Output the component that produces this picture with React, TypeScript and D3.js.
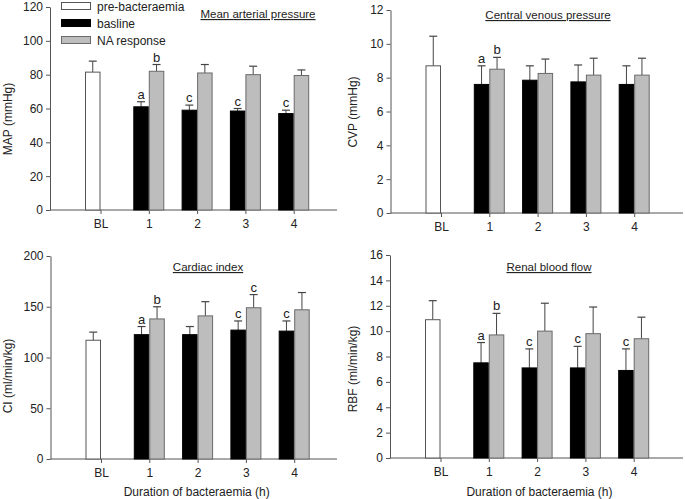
import React, { useEffect, useRef } from 'react';
import * as d3 from 'd3';

const categories = ["BL", "1", "2", "3", "4"];
const hours = ["1", "2", "3", "4"];

// Mean arterial pressure
const mapPre = 81.5, mapPreErr = 6.5;
const mapBase = [61, 59, 58.5, 57];
const mapBaseErr = [3, 3, 1.5, 2];
const mapNA = [82, 81, 80, 79.5];
const mapNAErr = [4, 5, 5, 3.3];
const mapBaseLetters = ["a", "c", "c", "c"];
const mapNALetters = ["b", "", "", ""];
const mapTicks = [0, 20, 40, 60, 80, 100, 120];

// Central venous pressure
const cvpPre = 8.7, cvpPreErr = 1.75;
const cvpBase = [7.6, 7.85, 7.75, 7.6];
const cvpBaseErr = [1.1, 0.85, 1.0, 1.1];
const cvpNA = [8.5, 8.25, 8.15, 8.15];
const cvpNAErr = [0.7, 0.85, 1.0, 1.0];
const cvpBaseLetters = ["a", "", "", ""];
const cvpNALetters = ["b", "", "", ""];
const cvpTicks = [0, 2, 4, 6, 8, 10, 12];

// Cardiac index
const ciPre = 117, ciPreErr = 8;
const ciBase = [122.5, 122.5, 127, 126];
const ciBaseErr = [8, 8, 9, 10];
const ciNA = [138, 141, 149, 147];
const ciNAErr = [12, 14, 13, 17];
const ciBaseLetters = ["a", "", "c", "c"];
const ciNALetters = ["b", "", "c", ""];
const ciTicks = [0, 50, 100, 150, 200];

// Renal blood flow
const rbfPre = 10.9, rbfPreErr = 1.5;
const rbfBase = [7.5, 7.1, 7.1, 6.9];
const rbfBaseErr = [1.6, 1.5, 1.7, 1.7];
const rbfNA = [9.7, 10.0, 9.8, 9.4];
const rbfNAErr = [1.7, 2.2, 2.1, 1.7];
const rbfBaseLetters = ["a", "c", "c", "c"];
const rbfNALetters = ["b", "", "", ""];
const rbfTicks = [0, 2, 4, 6, 8, 10, 12, 14, 16];

const legendLabels = ["pre-bacteraemia", "basline", "NA response"];

const FONT = "Arial, 'Liberation Sans', sans-serif";
const AXIS = "#555";
const TEXT = "#222";
const GRAY = "#bdbdbd";

const panels = [
  { title: "Mean arterial pressure", ylabel: "MAP (mmHg)", pre: mapPre, preErr: mapPreErr, base: mapBase, baseErr: mapBaseErr, na: mapNA, naErr: mapNAErr, baseLetters: mapBaseLetters, naLetters: mapNALetters, ticks: mapTicks,
    x0: 50, right: 337, top: 7, bottom: 210, titleX: 258, titleY: 18, ylabX: 8, ylabY: 119, legend: true, xTitle: false },
  { title: "Central venous pressure", ylabel: "CVP (mmHg)", pre: cvpPre, preErr: cvpPreErr, base: cvpBase, baseErr: cvpBaseErr, na: cvpNA, naErr: cvpNAErr, baseLetters: cvpBaseLetters, naLetters: cvpNALetters, ticks: cvpTicks,
    x0: 390.5, right: 683, top: 10, bottom: 213, titleX: 548, titleY: 19, ylabX: 353, ylabY: 112, legend: false, xTitle: false },
  { title: "Cardiac index", ylabel: "CI (ml/min/kg)", pre: ciPre, preErr: ciPreErr, base: ciBase, baseErr: ciBaseErr, na: ciNA, naErr: ciNAErr, baseLetters: ciBaseLetters, naLetters: ciNALetters, ticks: ciTicks,
    x0: 50.5, right: 337, top: 256, bottom: 459, titleX: 208, titleY: 271, ylabX: 8, ylabY: 376, legend: false, xTitle: true },
  { title: "Renal blood flow", ylabel: "RBF (ml/min/kg)", pre: rbfPre, preErr: rbfPreErr, base: rbfBase, baseErr: rbfBaseErr, na: rbfNA, naErr: rbfNAErr, baseLetters: rbfBaseLetters, naLetters: rbfNALetters, ticks: rbfTicks,
    x0: 390, right: 683, top: 255, bottom: 458, titleX: 549, titleY: 271, ylabX: 353, ylabY: 369, legend: false, xTitle: true },
];

function App() {
  const svgRef = useRef<SVGSVGElement>(null);

  useEffect(() => {
    const svg = d3.select(svgRef.current);
    svg.selectAll('*').remove();
    const barW = 15.5;
    const capW = 8;

    panels.forEach(p => {
      const g = svg.append('g');
      const y = d3.scaleLinear()
        .domain([0, p.ticks[p.ticks.length - 1]])
        .range([p.bottom, p.top]);
      const x = d3.scalePoint()
        .domain(categories)
        .range([p.x0 + 50.5, p.x0 + 243.7]);

      // axes
      const yAxis = g.append('g')
        .attr('transform', `translate(${p.x0},0)`)
        .call(d3.axisLeft(y).tickValues(p.ticks).tickSize(4).tickPadding(3).tickSizeOuter(0));
      const xAxis = g.append('g')
        .attr('transform', `translate(0,${p.bottom})`)
        .call(d3.axisBottom(x).tickSize(4).tickPadding(5).tickSizeOuter(0));
      xAxis.select('.domain').attr('d', `M${p.x0},0H${p.right}`);
      [yAxis, xAxis].forEach(a => {
        a.select('.domain').attr('stroke', AXIS);
        a.selectAll('.tick line').attr('stroke', AXIS);
        a.selectAll('.tick text').attr('fill', TEXT).style('font-family', FONT).style('font-size', '12px');
      });

      // bars: white baseline (pre) in left slot of BL group
      type Bar = { cx: number; v: number; e: number; fill: string; stroke: string; letter: string };
      const bars: Bar[] = [
        { cx: x("BL")! - barW / 2, v: p.pre, e: p.preErr, fill: "#fff", stroke: "#555", letter: "" },
      ];
      hours.forEach((h, i) => {
        bars.push({ cx: x(h)! - barW / 2, v: p.base[i], e: p.baseErr[i], fill: "#000", stroke: "#000", letter: p.baseLetters[i] });
        bars.push({ cx: x(h)! + barW / 2, v: p.na[i], e: p.naErr[i], fill: GRAY, stroke: "#6a6a6a", letter: p.naLetters[i] });
      });

      const eb = g.append('g').selectAll('g').data(bars).enter().append('g');
      eb.append('line')
        .attr('x1', d => d.cx).attr('x2', d => d.cx)
        .attr('y1', d => y(d.v)).attr('y2', d => y(d.v + d.e))
        .attr('stroke', '#444').attr('stroke-width', 1);
      eb.append('line')
        .attr('x1', d => d.cx - capW / 2).attr('x2', d => d.cx + capW / 2)
        .attr('y1', d => y(d.v + d.e)).attr('y2', d => y(d.v + d.e))
        .attr('stroke', '#444').attr('stroke-width', 1.2);

      g.append('g').selectAll('rect').data(bars).enter().append('rect')
        .attr('x', d => d.cx - barW / 2 + 0.5)
        .attr('width', barW - 1)
        .attr('y', d => y(d.v))
        .attr('height', d => p.bottom - y(d.v))
        .attr('fill', d => d.fill)
        .attr('stroke', d => d.stroke)
        .attr('stroke-width', 1);

      g.append('g').selectAll('text').data(bars.filter(d => d.letter)).enter().append('text')
        .attr('x', d => d.cx)
        .attr('y', d => y(d.v + d.e) - 3)
        .attr('text-anchor', 'middle')
        .attr('fill', TEXT)
        .style('font-family', FONT).style('font-size', '13px')
        .text(d => d.letter);

      // titles
      g.append('text')
        .attr('x', p.titleX).attr('y', p.titleY)
        .attr('text-anchor', 'middle')
        .attr('fill', TEXT)
        .style('font-family', FONT).style('font-size', '11.5px')
        .style('text-decoration', 'underline')
        .text(p.title);

      g.append('text')
        .attr('transform', `translate(${p.ylabX + 4},${p.ylabY}) rotate(-90)`)
        .attr('text-anchor', 'middle')
        .attr('fill', TEXT)
        .style('font-family', FONT).style('font-size', '12px')
        .text(p.ylabel);

      if (p.xTitle) {
        g.append('text')
          .attr('x', (p.x0 + p.right) / 2 + 3).attr('y', 496)
          .attr('text-anchor', 'middle')
          .attr('fill', TEXT)
          .style('font-family', FONT).style('font-size', '12px')
          .text('Duration of bacteraemia (h)');
      }

      if (p.legend) {
        const fills = ["#fff", "#000", GRAY];
        const strokes = ["#555", "#000", "#6a6a6a"];
        const ly = d3.scalePoint().domain(legendLabels).range([6, 40]);
        const lg = g.append('g').selectAll('g').data(legendLabels).enter().append('g');
        lg.append('rect')
          .attr('x', 61.5).attr('y', d => ly(d)! - 3.5)
          .attr('width', 29).attr('height', 7)
          .attr('fill', (d, i) => fills[i]).attr('stroke', (d, i) => strokes[i]);
        lg.append('text')
          .attr('x', 97).attr('y', d => ly(d)! + 4.5)
          .attr('fill', TEXT)
          .style('font-family', FONT).style('font-size', '12px')
          .text(d => d);
      }
    });
  }, []);

  return (
    <svg ref={svgRef} width={685} height={499}
      style={{ position: 'absolute', left: 0, top: 0, background: '#fff' }} />
  );
}

export default App;
